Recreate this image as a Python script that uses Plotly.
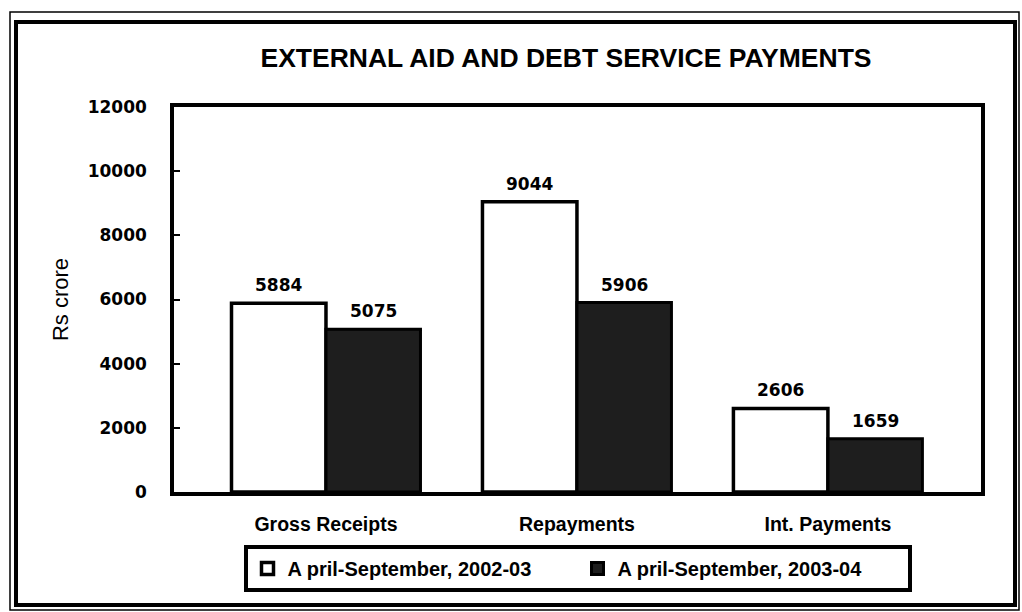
import plotly.graph_objects as go

categories = ["Gross Receipts", "Repayments", "Int. Payments"]
series_names = ["April-September, 2002-03", "April-September, 2003-04"]
legend_labels = ["A pril-September, 2002-03", "A pril-September, 2003-04"]
values_2002 = [5884, 9044, 2606]
values_2003 = [5075, 5906, 1659]
y_ticks = [0, 2000, 4000, 6000, 8000, 10000, 12000]

W, H = 1022, 612
L, R, T, B = 174, 981, 107, 492
BARGAP = 0.247

def px_x(p):
    return (p - L) / (R - L)

def px_y(p):
    return (B - p) / (B - T)

NUM_FONT = dict(family="DejaVu Sans", size=17, color="black", weight="bold")
TXT_FONT = dict(family="Liberation Sans, Arial, sans-serif", size=19.5, color="black", weight="bold")

fig = go.Figure()
fig.add_trace(go.Bar(
    x=categories, y=values_2002, name=legend_labels[0],
    marker=dict(color="white", line=dict(color="black", width=3.5)),
))
fig.add_trace(go.Bar(
    x=categories, y=values_2003, name=legend_labels[1],
    marker=dict(color="#1e1e1e", line=dict(color="black", width=3)),
))

annotations = []
off = (1 - BARGAP) / 4
for i, (a, b) in enumerate(zip(values_2002, values_2003)):
    for xv, yv in ((i - off, a), (i + off, b)):
        annotations.append(dict(
            x=xv, y=yv, xref="x", yref="y", text=str(yv), showarrow=False,
            yanchor="bottom", yshift=6, font=NUM_FONT,
        ))

shapes = [
    # outer double frame
    dict(type="rect", xref="paper", yref="paper",
         x0=px_x(10), x1=px_x(1019), y0=px_y(610), y1=px_y(12),
         line=dict(color="black", width=1.5), layer="below"),
    dict(type="rect", xref="paper", yref="paper",
         x0=px_x(16), x1=px_x(1015), y0=px_y(605), y1=px_y(22),
         line=dict(color="black", width=4), layer="below"),
]

fig.update_layout(
    width=W, height=H,
    margin=dict(l=L, r=W - R, t=T, b=H - B),
    paper_bgcolor="white", plot_bgcolor="white",
    barmode="group", bargap=BARGAP, bargroupgap=0,
    title=dict(text="EXTERNAL AID AND DEBT SERVICE PAYMENTS",
               x=566 / W, xanchor="center", y=1 - 58 / H, yanchor="middle",
               font=dict(family="Liberation Sans, Arial, sans-serif",
                         size=26.5, color="black", weight="bold")),
    xaxis=dict(
        type="category", range=[-0.6056, 2.61],
        showline=True, linecolor="black", linewidth=3.5, mirror=True,
        showgrid=False, ticks="", tickfont=TXT_FONT, ticklabelstandoff=12,
    ),
    yaxis=dict(
        range=[0, 12000], tickvals=y_ticks, ticktext=[str(v) for v in y_ticks],
        showline=True, linecolor="black", linewidth=3.5, mirror=True,
        showgrid=False, zeroline=False,
        ticks="inside", ticklen=6, tickwidth=2, tickcolor="black",
        tickfont=NUM_FONT, ticklabelstandoff=20,
        title=dict(text="Rs crore", standoff=14,
                   font=dict(family="Liberation Sans, Arial, sans-serif", size=22, color="black")),
    ),
    legend=dict(
        orientation="h", x=0.5, xanchor="center", y=px_y(545), yanchor="top",
        bordercolor="black", borderwidth=4, bgcolor="white",
        font=dict(family="Liberation Sans, Arial, sans-serif", size=20, color="black", weight="bold"),
        entrywidth=285,
    ),
    annotations=annotations,
    shapes=shapes,
    showlegend=True,
)

fig.write_html("out.html")
